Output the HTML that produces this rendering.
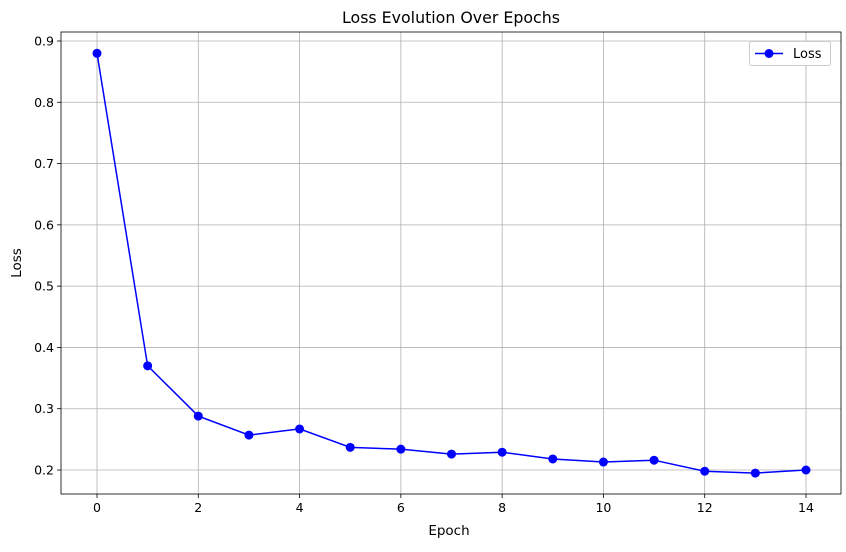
<!DOCTYPE html>
<html><head><meta charset="utf-8"><style>
body{margin:0;background:#fff;font-family:"Liberation Sans","DejaVu Sans",sans-serif}
svg text{font-family:"DejaVu Sans","Liberation Sans",sans-serif;fill:#000}
</style></head><body>
<svg id="chart" width="846" height="547">
<rect x="0" y="0" width="846" height="547" fill="#fff"/>
<g id="grid"></g><g id="axes"></g><g id="series"></g>
<text x="451" y="23" text-anchor="middle" font-size="15.8">Loss Evolution Over Epochs</text>
<text x="449" y="535" text-anchor="middle" font-size="13.5">Epoch</text>
<text x="21" y="263" text-anchor="middle" font-size="13.5" transform="rotate(-90 21 263)">Loss</text>
<g>
<rect x="749.5" y="41.5" width="81" height="24" fill="#fff" stroke="#ccc" rx="2"/>
<line x1="755" y1="53.5" x2="783" y2="53.5" stroke="#0000ff" stroke-width="1.5"/>
<circle cx="769" cy="53.5" r="4.5" fill="#0000ff"/>
<text x="793" y="58" font-size="13">Loss</text>
</g>
</svg>
<script>
const epochs=[0,1,2,3,4,5,6,7,8,9,10,11,12,13,14];
const lossValues=[0.880,0.370,0.288,0.257,0.267,0.237,0.234,0.226,0.229,0.218,0.213,0.216,0.198,0.195,0.200];
const xTicks=[0,2,4,6,8,10,12,14];
const yTicks=[0.2,0.3,0.4,0.5,0.6,0.7,0.8,0.9];
const L=61,R=841,T=32,B=494;
function xs(v){return 97+(v-0)*(806-97)/14;}
function ys(v){return 470-(v-0.2)*(470-41)/0.7;}
const NS="http://www.w3.org/2000/svg";
function mk(t,a,p){const e=document.createElementNS(NS,t);for(const k in a)e.setAttribute(k,a[k]);p.appendChild(e);return e;}
const grid=document.getElementById('grid'),axes=document.getElementById('axes'),ser=document.getElementById('series');
xTicks.forEach(t=>{const x=xs(t);
const g=mk('line',{x1:x,x2:x,y1:T,y2:B,stroke:'#b0b0b0','stroke-width':0.8},grid);


mk('line',{x1:x,x2:x,y1:B,y2:B+4,stroke:'#000','stroke-width':0.8},axes);
const tx=mk('text',{x:x,y:B+18,'text-anchor':'middle','font-size':12.5},axes);tx.textContent=t;

});
yTicks.forEach(t=>{const y=ys(t);
const g=mk('line',{x1:L,x2:R,y1:y,y2:y,stroke:'#b0b0b0','stroke-width':0.8},grid);


mk('line',{x1:L-4,x2:L,y1:y,y2:y,stroke:'#000','stroke-width':0.8},axes);
const tx=mk('text',{x:L-7,y:y+4.5,'text-anchor':'end','font-size':12.5},axes);tx.textContent=t.toFixed(1);

});
const fr=mk('rect',{x:L,y:T,width:R-L,height:B-T,fill:'none',stroke:'#000','stroke-width':0.8},axes);


const pl=mk('polyline',{points:epochs.map((e,i)=>xs(e)+','+ys(lossValues[i])).join(' '),fill:'none',stroke:'#0000ff','stroke-width':1.5},ser);


epochs.forEach((e,i)=>{const c=mk('circle',{cx:xs(e),cy:ys(lossValues[i]),r:4.5,fill:'#0000ff'},ser);

});
</script>
</body></html>
